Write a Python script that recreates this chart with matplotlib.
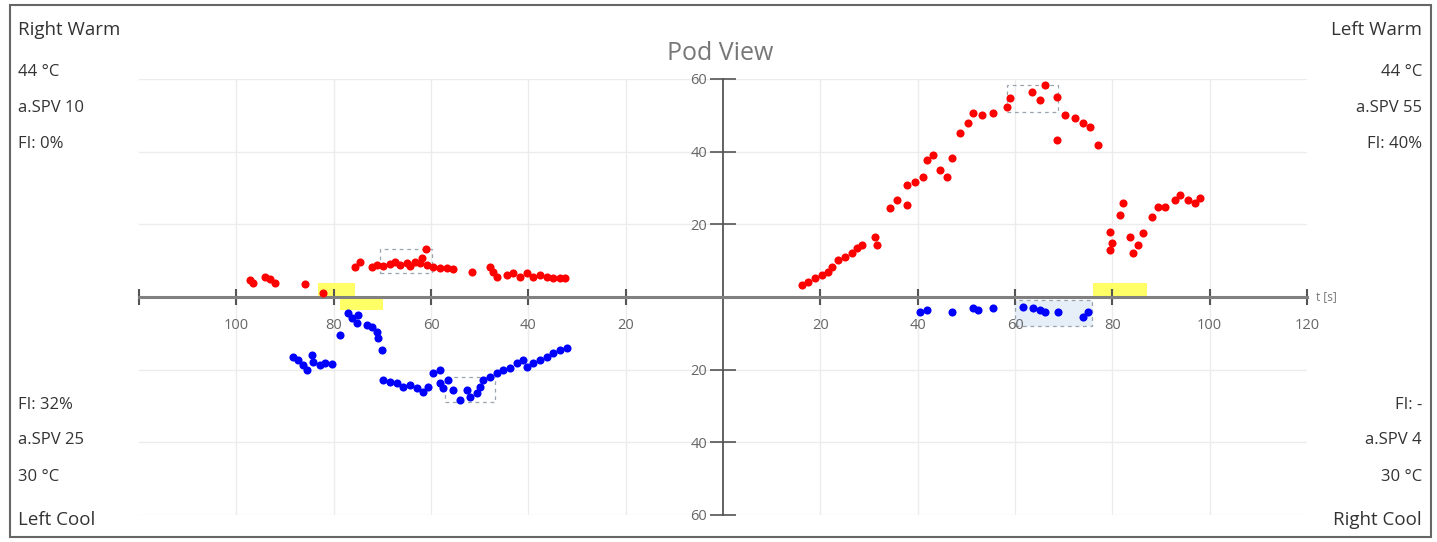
import matplotlib
matplotlib.use("Agg")
import matplotlib.pyplot as plt
from matplotlib.patches import Rectangle
from matplotlib.ticker import FuncFormatter

# Right warm (drawn on the left, above the axis)
rw_t = [97.2, 96.5, 94.1, 93.0, 92.1, 85.9, 82.2,
        75.6, 74.6, 72.1, 71.1, 69.9, 68.4, 67.4, 66.4, 65.0, 64.3, 63.3, 62.3,
        61.9, 61.0, 60.8, 59.6, 58.2, 56.7, 55.5, 51.6, 47.9, 47.3, 46.5, 44.4,
        43.2, 41.7, 40.3, 39.1, 37.6, 36.2, 34.9, 33.5, 32.5]
rw_spv = [4.7, 3.9, 5.5, 4.9, 3.9, 3.5, 1.1,
          8.3, 9.6, 8.3, 8.8, 8.5, 9.1, 9.6, 8.8, 9.4, 8.5, 9.6, 9.4,
          10.7, 13.2, 8.8, 8.3, 8.0, 8.0, 7.7, 6.9, 8.3, 6.9, 5.5, 6.1,
          6.6, 5.5, 6.6, 5.5, 6.1, 5.5, 5.2, 5.2, 5.2]

# Left cool (drawn on the left, below the axis)
lc_t = [88.4, 87.4, 86.3, 85.5, 84.5, 84.3, 82.8, 81.8, 80.4, 78.7,
        77.1, 76.3, 75.2, 75.0, 73.2, 72.1, 71.1, 70.9, 70.1,
        69.9, 68.4, 67.0, 65.8, 64.3, 62.9, 61.7, 60.6, 59.6, 58.2, 58.2,
        57.6, 56.5, 55.5, 54.1, 52.6, 52.0, 50.6, 49.9, 49.3, 47.9, 46.5,
        45.2, 43.8, 42.3, 41.1, 40.3, 39.1, 37.6, 36.2, 34.9, 33.5, 32.1]
lc_spv = [16.5, 17.3, 18.7, 20.1, 16.0, 17.9, 18.7, 18.2, 18.4, 10.5,
          4.4, 5.8, 7.2, 5.0, 7.7, 8.3, 9.6, 11.3, 14.6,
          22.8, 23.4, 23.7, 24.8, 24.2, 25.0, 26.1, 24.8, 20.9, 20.1, 23.7,
          25.0, 22.8, 25.6, 28.3, 25.6, 27.5, 26.4, 24.8, 22.8, 22.0, 20.9,
          20.1, 19.5, 18.2, 17.3, 19.3, 18.2, 17.3, 16.5, 15.4, 14.6, 14.0]

# Left warm (drawn on the right, above the axis)
lw_t = [16.2, 17.5, 19.0, 20.3, 21.6, 22.4, 23.6, 25.1, 26.5, 27.5, 28.6,
        31.2, 31.7, 34.3, 35.8, 37.8, 37.8, 39.5, 41.1, 41.9, 43.2, 44.6,
        46.0, 47.1, 48.7, 50.4, 51.4, 53.2, 55.5, 58.4, 59.0, 63.5, 65.2,
        66.2, 68.7, 68.7, 70.3, 72.4, 74.0, 75.4, 77.1,
        79.5, 79.9, 79.5, 81.6, 82.2, 83.7, 84.3, 85.3, 86.3, 88.2, 89.4,
        90.9, 92.9, 93.9, 95.6, 97.0, 98.0]
lw_spv = [3.3, 4.1, 5.2, 6.1, 6.9, 8.3, 10.2, 11.0, 12.1, 13.5, 14.3,
          16.5, 14.3, 24.5, 26.7, 25.3, 30.8, 31.6, 33.0, 37.7, 39.1, 34.9,
          33.0, 38.2, 45.1, 47.9, 50.6, 50.1, 50.6, 52.3, 54.7, 56.4, 54.2,
          58.3, 55.0, 43.2, 50.1, 49.2, 47.9, 46.8, 41.8,
          17.9, 14.9, 12.9, 22.6, 25.9, 16.5, 12.1, 14.3, 17.6, 22.0, 24.8,
          24.8, 26.7, 28.1, 26.7, 25.9, 27.2]

# Right cool (drawn on the right, below the axis)
rc_t = [40.5, 41.9, 47.1, 51.4, 52.4, 55.5, 61.7, 63.7, 65.2, 66.2, 68.9, 74.0, 75.0]
rc_spv = [4.1, 3.6, 4.1, 3.0, 3.6, 3.0, 2.8, 3.0, 3.6, 4.1, 4.1, 5.5, 4.1]

xticks = [20, 40, 60, 80, 100, 120]
yticks = [20, 40, 60]

plt.rcParams['font.family'] = ['Open Sans', 'DejaVu Sans']

fig = plt.figure(figsize=(14.37, 5.42), dpi=100)
ax = fig.add_axes([139 / 1437, 27 / 542, 1168 / 1437, 436 / 542])

ax.set_xlim(-120, 120)
ax.set_ylim(-60, 60)

# grid
for v in xticks[:-1]:
    ax.axvline(v, color='#ececec', lw=1, zorder=0)
    ax.axvline(-v, color='#ececec', lw=1, zorder=0)
for v in yticks:
    ax.axhline(v, color='#ececec', lw=1, zorder=0)
    ax.axhline(-v, color='#ececec', lw=1, zorder=0)

# stimulus markers and selection boxes
ax.add_patch(Rectangle((-83.2, 0), 7.6, 3.9, color='#ffff66', lw=0, zorder=1))
ax.add_patch(Rectangle((-78.7, -3.6), 8.8, 3.6, color='#ffff66', lw=0, zorder=1))
ax.add_patch(Rectangle((76, 0), 11.2, 3.9, color='#ffff66', lw=0, zorder=1))
ax.add_patch(Rectangle((60, -8.0), 15.8, 7.2, facecolor='#e6eef8', edgecolor='#9aa4ae',
                       lw=0.9, ls=(0, (3, 3)), zorder=1))
for x0, y0, w, h in [(-70.5, 6.6, 10.7, 6.6), (-57.1, -28.9, 10.2, 6.9), (58.4, 50.9, 10.5, 7.4)]:
    ax.add_patch(Rectangle((x0, y0), w, h, fill=False, edgecolor='#9aa4ae',
                           lw=0.9, ls=(0, (3, 3)), zorder=1))

ax.scatter([-t for t in rw_t], rw_spv, s=34, color='#ff0000', lw=0, zorder=3)
ax.scatter([-t for t in lc_t], [-v for v in lc_spv], s=34, color='#0000ff', lw=0, zorder=3)
ax.scatter(lw_t, lw_spv, s=34, color='#ff0000', lw=0, zorder=3)
ax.scatter(rc_t, [-v for v in rc_spv], s=34, color='#0000ff', lw=0, zorder=3)

# centred axes
for side in ['top', 'right']:
    ax.spines[side].set_visible(False)
ax.spines['left'].set_position(('data', 0))
ax.spines['bottom'].set_position(('data', 0))
ax.spines['left'].set_color('#555555')
ax.spines['bottom'].set_color('#808080')
ax.spines['left'].set_linewidth(1.3)
ax.spines['bottom'].set_linewidth(2.2)

ax.set_xticks(sorted([-v for v in xticks] + xticks))
ax.set_yticks(sorted([-v for v in yticks] + yticks))
ax.xaxis.set_major_formatter(FuncFormatter(lambda v, p: '' if v <= -120 else f'{abs(v):.0f}'))
ax.yaxis.set_major_formatter(FuncFormatter(lambda v, p: f'{abs(v):.0f}'))
ax.tick_params(axis='x', direction='inout', length=12, width=1.5, color='#555555',
               labelsize=10.5, labelcolor='#666666', pad=9)
ax.tick_params(axis='y', direction='inout', length=19, width=1.2, color='#555555',
               labelsize=10.5, labelcolor='#666666', pad=2)
ax.set_facecolor('none')

ax.text(1.008, 0.5, 't [s]', transform=ax.transAxes, ha='left', va='center',
        fontsize=8.5, color='#777777')

fig.text(720 / 1437, 1 - 53 / 542, 'Pod View', ha='center', va='center',
         fontsize=18, color='#777777')

left_top = ['Right Warm', '44 °C', 'a.SPV 10', 'FI: 0%']
right_top = ['Left Warm', '44 °C', 'a.SPV 55', 'FI: 40%']
left_bot = ['FI: 32%', 'a.SPV 25', '30 °C', 'Left Cool']
right_bot = ['FI: -', 'a.SPV 4', '30 °C', 'Right Cool']
top_y = [30, 72, 108, 144]
bot_y = [405, 440, 477, 520]
for labels, ys, x, ha in [(left_top, top_y, 18, 'left'), (right_top, top_y, 1422, 'right'),
                          (left_bot, bot_y, 18, 'left'), (right_bot, bot_y, 1422, 'right')]:
    for lab, y in zip(labels, ys):
        big = 'Warm' in lab or 'Cool' in lab
        fig.text(x / 1437, 1 - y / 542, lab, ha=ha, va='center',
                 fontsize=13.5 if big else 12, color='#333333')

fig.patches.append(Rectangle((10 / 1437, 5 / 542), 1421 / 1437, 532 / 542,
                             transform=fig.transFigure, fill=False,
                             edgecolor='#666666', lw=1.5))

fig.savefig('out.png', dpi=100)
